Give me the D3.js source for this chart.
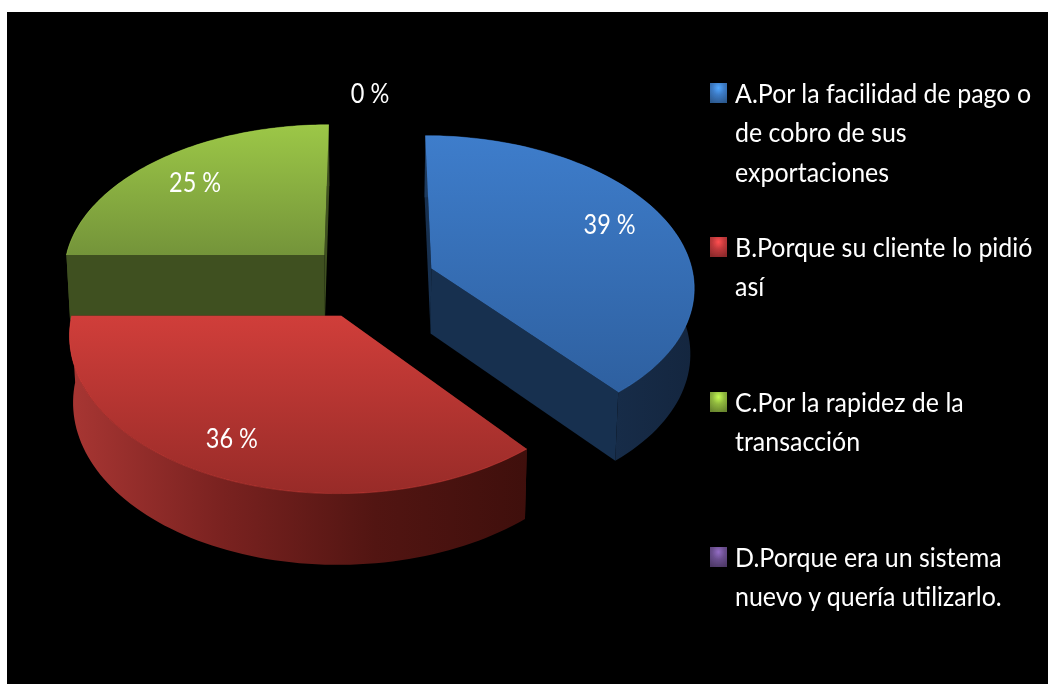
<!DOCTYPE html>
<html>
<head>
<meta charset="utf-8">
<style>
  html, body { margin: 0; padding: 0; background: #fff; }
  svg { display: block; }
  text { font-family: Lato, "Open Sans", sans-serif; fill: #fff; }
</style>
<script src="https://cdn.jsdelivr.net/npm/d3@7"></script>
</head>
<body>
<div id="chart"></div>
<script>
// values
var categories = ["A", "B", "C", "D"];
var values = [39, 36, 25, 0];
var legendLines = [
    ["A.Por la facilidad de pago o", "de cobro de sus", "exportaciones"],
    ["B.Porque su cliente lo pidió", "así"],
    ["C.Por la rapidez de la", "transacción"],
    ["D.Porque era un sistema", "nuevo y quería utilizarlo."]
];
var topColors = [["#3e7dcb", "#2e60a0"], ["#d03e3a", "#982b28"], ["#9cc747", "#74943a"], ["#7d60a0", "#5c4578"]];
var cutColors = ["#17304f", "#4a1512", "#3f5020", "#3a2a50"];
var wallColors = [
    ["#1d3a5e", "#14263f"],
    ["#a83633", "#7a2220", "#521512", "#3f0f0c"],
    ["#3f5020", "#3f5020"],
    ["#3a2a50", "#3a2a50"]
];
var markerColors = ["#3c7ac4", "#c0393b", "#8fb73e", "#6b4f8f"];

var width = 1048, height = 684;

// the page is a white sheet with the black slide on it
var svg = d3.select("#chart").append("svg").attr("width", width).attr("height", height);
svg.append("rect").attr("x", 7).attr("y", 12).attr("width", width - 7).attr("height", height - 12).attr("fill", "#000");

var defs = svg.append("defs");

// perspective of the pie plane
var view = { cx: 370, cy: 281, a: 263, b: 150, p: 0.11, explode: 0.25 };

function project(angle, r, m) {
    var u = Math.sin(m) * view.explode + Math.sin(angle) * r;
    var v = -Math.cos(m) * view.explode - Math.cos(angle) * r;
    var w = 1 - view.p * v;
    return [view.cx + view.a * u / w, view.cy + view.b * v / w];
}

// lower rim of the pie, a bit narrower and further down towards the viewer
function drop(pt) {
    return [
        view.cx + (pt[0] - view.cx) * 0.988,
        pt[1] + 65.5 + (pt[1] - view.cy) * 0.027
    ];
}

function mid(d) {
    return (d.startAngle + d.endAngle) / 2;
}

function arcPoints(d) {
    return d3.range(0, 81).map(function (i) {
        return project(d.startAngle + (d.endAngle - d.startAngle) * i / 80, 1, mid(d));
    });
}

var line = d3.line();

function gradient(id, stops, vertical) {
    var g = defs.append("linearGradient").attr("id", id)
        .attr("x1", 0).attr("y1", 0)
        .attr("x2", vertical ? 0 : 1).attr("y2", vertical ? 1 : 0);
    stops.forEach(function (c, i) {
        g.append("stop").attr("offset", i / (stops.length - 1)).attr("stop-color", c);
    });
}

categories.forEach(function (c, i) {
    gradient("top" + c, topColors[i], true);
    gradient("wall" + c, wallColors[i], false);
    var m = defs.append("radialGradient").attr("id", "marker" + c)
        .attr("cx", 0.5).attr("cy", 0.25).attr("r", 0.8);
    m.append("stop").attr("offset", 0).attr("stop-color", d3.color(markerColors[i]).brighter(0.9));
    m.append("stop").attr("offset", 0.45).attr("stop-color", markerColors[i]);
    m.append("stop").attr("offset", 1).attr("stop-color", d3.color(markerColors[i]).darker(0.9));
});

defs.append("filter").attr("id", "soft").append("feGaussianBlur").attr("stdDeviation", 0.7);
defs.append("filter").attr("id", "softText").append("feGaussianBlur").attr("stdDeviation", 0.35);

var pie = d3.pie().sort(null).value(function (d) { return d; });
var slices = pie(values);

// green first, then blue, red sits in front of both
var drawOrder = [2, 0, 1];
var pieGroup = svg.append("g").attr("class", "pie");

drawOrder.forEach(function (i) {
    var d = slices[i], name = categories[i];
    var m = mid(d);
    var apex = project(0, 0, m);
    var rim = arcPoints(d);
    var lower = rim.map(drop);
    var g = pieGroup.append("g");

    // the two cut faces
    [rim[0], rim[rim.length - 1]].forEach(function (pt) {
        g.append("path")
            .attr("d", line([apex, pt, drop(pt), drop(apex)]) + "Z")
            .attr("fill", cutColors[i]);
    });

    // outer wall
    g.append("path")
        .attr("d", line(rim.concat(lower.slice().reverse())) + "Z")
        .attr("fill", "url(#wall" + name + ")");

    // top face
    g.append("path")
        .attr("d", line([apex].concat(rim)) + "Z")
        .attr("fill", "url(#top" + name + ")");

    // thin highlight along the rim
    g.append("path")
        .attr("d", line(rim))
        .attr("fill", "none")
        .attr("stroke", d3.color(topColors[i][0]).brighter(0.5))
        .attr("stroke-opacity", 0.35)
        .attr("stroke-width", 1);
});

// percentage labels, placed on the slice plane. The reference's text is tall and
// narrow, so Lato is set a bit big and squeezed sideways
var labelRadius = [0.78, 0.8, 0.76, 1.2];
var labelTurn = [-3.7, 1.9, -0.3, 0];

function labelPoint(d, i) {
    var t = mid(d) + labelTurn[i] * Math.PI / 180;
    return project(t, labelRadius[i], mid(d));
}

svg.append("g").attr("filter", "url(#softText)").selectAll("text").data(slices).enter().append("text")
    .attr("transform", function (d, i) {
        var pt = labelPoint(d, i);
        return "translate(" + pt[0] + "," + pt[1] + ") scale(0.87,1)";
    })
    .attr("dy", "0.36em")
    .attr("text-anchor", "middle")
    .attr("font-size", 27)
    .text(function (d) { return d.value + " %"; });

// legend
var legendFirst = { A: 103, B: 257, C: 412, D: 567 };
var legend = svg.append("g").attr("class", "legend");

categories.forEach(function (c, i) {
    var y = legendFirst[c];
    legend.append("rect")
        .attr("x", 710).attr("y", y - 20).attr("width", 17).attr("height", 20)
        .attr("fill", "url(#marker" + c + ")")
        .attr("filter", "url(#soft)");
    legendLines[i].forEach(function (t, j) {
        legend.append("text")
            .attr("transform", "translate(735," + (y + j * 39.3) + ") scale(0.925,1)")
            .attr("font-size", 27)
            .attr("filter", "url(#softText)")
            .text(t);
    });
});
</script>
</body>
</html>
